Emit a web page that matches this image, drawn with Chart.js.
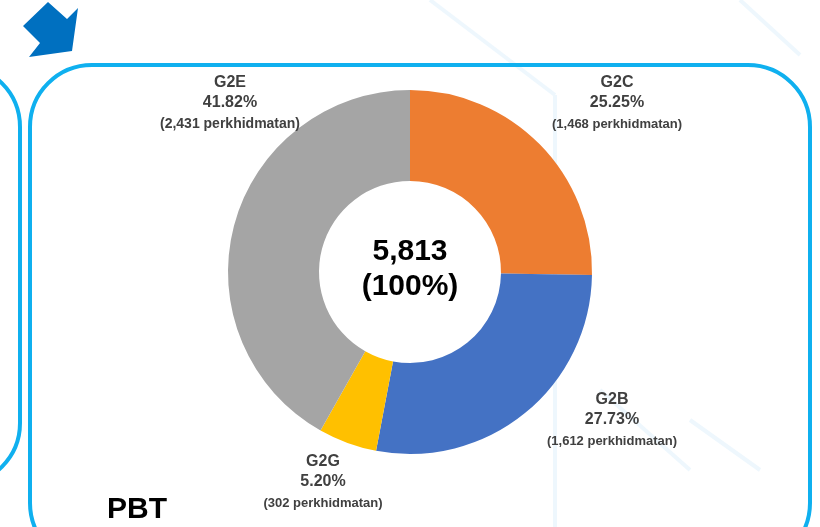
<!DOCTYPE html>
<html>
<head>
<meta charset="utf-8">
<script src="https://cdn.jsdelivr.net/npm/chart.js@4"></script>
<style>
  html, body { margin: 0; padding: 0; background: #fff; }
  #wrap { width: 820px; height: 527px; position: relative; }
</style>
</head>
<body>
<div id="wrap"><canvas id="pieChart" width="820" height="527"></canvas></div>
<script>
const categories = ['G2C', 'G2B', 'G2G', 'G2E'];
const services = [1468, 1612, 302, 2431];
const percentLabels = ['25.25%', '27.73%', '5.20%', '41.82%'];
const totalLabel = ['5,813', '(100%)'];
const colors = ['#ED7D31', '#4472C4', '#FFC000', '#A5A5A5'];

// where each label block sits, relative to the doughnut centre
const labelOffsets = [[207, -189], [202, 128], [-87, 190], [-180, -189]];
const labelFontSizes = [13, 13, 13, 14];

function fmt(n) { return n.toLocaleString('en-US'); }

// frames, arrow and title behind the chart
const backdrop = {
  id: 'backdrop',
  beforeDraw(chart) {
    const ctx = chart.ctx;
    ctx.save();
    // faint network lines
    ctx.strokeStyle = 'rgba(200,230,248,0.3)';
    ctx.lineWidth = 4;
    ctx.beginPath();
    ctx.moveTo(430, 0); ctx.lineTo(555, 95);
    ctx.moveTo(740, 0); ctx.lineTo(800, 55);
    ctx.moveTo(555, 95); ctx.lineTo(555, 527);
    ctx.moveTo(690, 420); ctx.lineTo(760, 470);
    ctx.moveTo(600, 390); ctx.lineTo(690, 470);
    ctx.stroke();

    ctx.strokeStyle = '#0FB0EF';
    ctx.lineWidth = 4;
    // main rounded box
    ctx.beginPath();
    ctx.roundRect(30, 65, 780, 500, 62);
    ctx.stroke();
    // neighbouring box on the left
    ctx.beginPath();
    ctx.roundRect(-300, 65, 320, 420, 62);
    ctx.stroke();

    // arrow
    ctx.fillStyle = '#0070C0';
    ctx.beginPath();
    const pts = [[48, 2], [67, 19], [78, 8], [72, 51], [29, 57], [40, 43], [23, 26]];
    ctx.moveTo(pts[0][0], pts[0][1]);
    pts.slice(1).forEach(p => ctx.lineTo(p[0], p[1]));
    ctx.closePath();
    ctx.fill();

    ctx.fillStyle = '#000';
    ctx.font = 'bold 30px "Liberation Sans", Arial, sans-serif';
    ctx.textBaseline = 'alphabetic';
    ctx.fillText('PBT', 107, 518);
    ctx.restore();
  }
};

const sliceLabels = {
  id: 'sliceLabels',
  afterDatasetsDraw(chart) {
    const ctx = chart.ctx;
    const arc0 = chart.getDatasetMeta(0).data[0];
    const cx = arc0.x, cy = arc0.y;
    ctx.save();
    ctx.textAlign = 'center';
    ctx.textBaseline = 'middle';
    categories.forEach((c, i) => {
      const x = cx + labelOffsets[i][0];
      const y = cy + labelOffsets[i][1];
      ctx.fillStyle = '#404040';
      ctx.font = 'bold 16px "Liberation Sans", Arial, sans-serif';
      ctx.fillText(c, x, y);
      ctx.fillText(percentLabels[i], x, y + 20);
      ctx.font = 'bold ' + labelFontSizes[i] + 'px "Liberation Sans", Arial, sans-serif';
      ctx.fillText('(' + fmt(services[i]) + ' perkhidmatan)', x, y + 41);
    });
    ctx.fillStyle = '#000';
    ctx.font = 'bold 30px "Liberation Sans", Arial, sans-serif';
    ctx.fillText(totalLabel[0], cx, cy - 20);
    ctx.fillText(totalLabel[1], cx, cy + 15);
    ctx.restore();
  }
};

new Chart(document.getElementById('pieChart'), {
  type: 'doughnut',
  data: {
    labels: categories,
    datasets: [{
      data: services,
      backgroundColor: colors,
      borderWidth: 0
    }]
  },
  options: {
    responsive: false,
    animation: false,
    cutout: '50%',
    layout: { padding: { top: 90, bottom: 73, left: 0, right: 0 } },
    plugins: {
      legend: { display: false },
      tooltip: { enabled: false }
    }
  },
  plugins: [backdrop, sliceLabels]
});
</script>
</body>
</html>
